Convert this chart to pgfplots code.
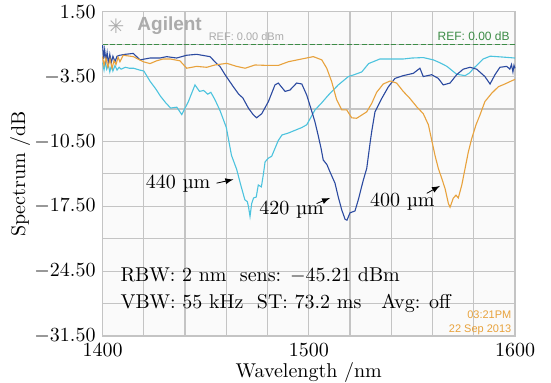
\documentclass[border=0pt]{standalone}
\usepackage{fontspec}
\usepackage{pgfplots}
\pgfplotsset{compat=1.18}
\newfontfamily\lsans{Liberation Sans}
\newfontfamily\dejavu{DejaVu Sans}
\definecolor{cyanc}{HTML}{4CC3DE}
\definecolor{navyc}{HTML}{2B4AA0}
\definecolor{orangec}{HTML}{E8A23C}
\definecolor{refgreen}{HTML}{3C8C46}
\definecolor{gridc}{HTML}{C4C4C4}
\definecolor{logoc}{HTML}{ABABAB}
\begin{document}
\begin{tikzpicture}
\begin{axis}[
  scale only axis, width=206.2pt, height=162.2pt,
  xmin=1400, xmax=1600, ymin=-31.5, ymax=3.5,
  xtick={1400,1500,1600}, minor xtick={1420,1440,1460,1480,1520,1540,1560,1580},
  xticklabel style={/pgf/number format/1000 sep={}},
  ytick={3.5,-3.5,-10.5,-17.5,-24.5,-31.5},
  yticklabels={$1.50$,$-3.50$,$-10.50$,$-17.50$,$-24.50$,$-31.50$},
  minor ytick={0,-7,-14,-21,-28},
  grid=both,
  major grid style={gridc, line width=0.6pt},
  minor grid style={gridc, line width=0.6pt},
  axis line style={gridc, line width=0.6pt},
  major tick length=0pt, minor tick length=0pt,
  xlabel={Wavelength /nm}, ylabel={Spectrum /dB},
  xlabel style={at={(axis description cs:0.5,0)}, anchor=center, yshift=-18pt},
  ylabel style={at={(axis description cs:-0.2,0.5)}, anchor=center},
  clip=false,
  axis background/.style={fill=black!2},
]
\coordinate (SW) at (rel axis cs:0,0);
\coordinate (NE) at (rel axis cs:1,1);
% REF line
\addplot[refgreen, line width=0.6pt, dash pattern=on 2.5pt off 1.2pt] coordinates {(1400,0) (1600,0)};
% 440 um (light blue)
\addplot[cyanc, line width=0.55pt] coordinates {
(1400,-2.0) (1400.7,-2.8) (1401.3,-1.9) (1402,-2.7) (1402.8,-2.2) (1403.5,-3.0) (1404.3,-2.3) (1405,-2.9) (1406,-2.3) (1407,-2.8) (1408,-2.5) (1409,-2.7) (1411,-2.5) (1413,-2.6) (1415,-2.6) (1418,-2.8) (1420,-2.9)
(1423,-4.0) (1426,-4.9) (1428,-5.6) (1430.5,-6.3) (1433,-6.9) (1436,-6.8) (1438.4,-7.6) (1441.6,-6.2) (1444.8,-4.4) (1447,-5.1) (1449,-5.0) (1451,-5.4) (1452.5,-5.2) (1454.5,-6.0) (1457,-7.2) (1460,-9.0)
(1462.5,-12.0) (1465,-13.5) (1467,-15.2) (1469,-16.8) (1470.2,-17.0) (1470.8,-17.6) (1471.5,-18.6) (1472.3,-17.2) (1473.2,-16.6) (1474.5,-16.5) (1475.5,-15.2) (1477,-15.4) (1478,-14.0) (1478.8,-12.7) (1480.4,-12.3) (1482,-12.1) (1483.5,-11.3) (1485.2,-10.4) (1487,-9.8) (1490,-9.6) (1493.3,-9.3) (1496.6,-9.0) (1499,-8.7)
(1503,-7.1) (1506,-6.4) (1509.5,-5.5) (1514.3,-4.4) (1519.2,-3.5) (1522,-3.3) (1525.7,-3.0) (1529,-2.1) (1534.5,-1.6) (1540,-1.6) (1546,-1.6) (1550,-1.5) (1555.5,-1.45) (1560.4,-1.7) (1563.5,-2.0) (1567,-2.4) (1571.7,-3.25) (1575.8,-3.4) (1578,-3.1) (1580,-2.6) (1584.6,-1.6) (1588,-1.3) (1594.3,-1.4) (1600,-1.5)
};
% 420 um (dark blue)
\addplot[navyc, line width=0.55pt] coordinates {
(1400,-0.1) (1400.5,-1.6) (1401,-0.6) (1401.6,-1.8) (1402.2,-0.9) (1402.8,-2.1) (1403.5,-1.1) (1404.2,-2.0) (1405,-1.3) (1406,-1.9) (1407,-1.3) (1408.4,-1.2) (1411,-1.1) (1414.9,-1.0) (1418.1,-1.7) (1423,-1.5) (1427.8,-1.5) (1431.1,-1.35) (1435.9,-1.5) (1440.8,-1.2) (1445.6,-1.1) (1452.1,-1.35)
(1455.3,-2.1) (1456.9,-2.4) (1459.4,-3.3) (1463.4,-4.6) (1466,-5.4) (1468,-5.8) (1470.7,-6.9) (1473,-7.6) (1474.7,-7.95) (1477.2,-7.5) (1480.4,-6.2) (1483.6,-4.4) (1485.2,-4.2) (1488.5,-5.1) (1490.9,-4.95) (1494.1,-4.2) (1496.6,-4.3) (1499,-5.5)
(1501.1,-7.0) (1503,-8.4) (1504.5,-9.8) (1506,-11.3) (1507,-12.5) (1508.8,-13.0) (1510.3,-13.8) (1512.7,-15.0) (1514.3,-16.5) (1516,-17.9) (1517.6,-18.9) (1518.5,-19.0) (1520,-18.2) (1522.4,-18.0) (1524,-16.8) (1526.4,-14.7) (1528.1,-13.4) (1529.7,-10.7) (1530.6,-9.3) (1532.1,-7.3)
(1535.4,-5.85) (1538.6,-4.6) (1541.8,-3.7) (1545.8,-3.4) (1550.7,-3.15) (1553.9,-2.6) (1555.5,-3.5) (1559.6,-3.3) (1562.8,-3.7) (1565.2,-4.4) (1568.5,-4.2) (1571.7,-3.3) (1574.9,-2.7) (1578.2,-2.5) (1581.4,-2.7) (1585.4,-3.5) (1587.9,-4.3) (1590.3,-3.3) (1592.7,-2.5) (1596,-2.4) (1597.5,-2.7) (1598.3,-2.2) (1599,-3.0) (1599.5,-2.3) (1600,-2.6)
};
% 400 um (orange)
\addplot[orangec, line width=0.55pt] coordinates {
(1400,-1.35) (1400.7,-2.3) (1401.6,-1.5) (1402.6,-2.5) (1403.6,-1.6) (1404.6,-2.6) (1405.5,-1.8) (1406.5,-2.2) (1407.5,-1.4) (1408.4,-1.9) (1410,-1.2) (1414.9,-1.35) (1419.7,-1.9) (1423,-2.1) (1426.2,-1.8) (1429.4,-1.6) (1432.7,-1.6) (1437.5,-1.8) (1440.8,-2.6) (1445.6,-2.4) (1450.5,-2.5) (1454.5,-2.25) (1460.2,-2.07) (1465,-2.4) (1469.1,-2.6) (1473.9,-2.25) (1480.4,-2.3) (1485.2,-2.3) (1490.1,-1.9) (1496.6,-1.6) (1502.2,-1.35) (1506.3,-1.7)
(1508.7,-2.6) (1511.1,-4.05) (1513.5,-6.0) (1516,-7.1) (1518.4,-7.1) (1520.8,-7.95) (1523.2,-8.0) (1525.7,-7.65) (1528.1,-7.3) (1530.5,-6.4) (1532.9,-5.2) (1536.1,-4.3) (1539.4,-3.98) (1542.6,-4.2) (1545.8,-5.1) (1549,-5.85) (1552.3,-6.75) (1555.5,-7.5) (1558,-8.7)
(1559.6,-10.35) (1561.2,-12.0) (1562.8,-13.4) (1564.5,-14.5) (1566.1,-15.6) (1567.7,-17.2) (1568.5,-17.6) (1570.1,-16.6) (1571.4,-16.3) (1572.5,-16.6) (1574.2,-15.2) (1575.8,-13.4) (1577.4,-11.6) (1579,-10.2) (1581.1,-8.7) (1583,-7.65) (1585.4,-6.2) (1588.7,-5.3) (1591.9,-4.6) (1595.1,-4.3) (1597.5,-4.05) (1600,-3.8)
};
% screen decorations
\node[logoc, font=\dejavu\fontsize{10}{10}\selectfont] at (axis cs:1406.5,1.9) {✳};
\node[logoc, anchor=west, inner sep=0pt, font=\lsans\bfseries\fontsize{9.5}{10}\selectfont] at (axis cs:1416.7,1.95) {Agilent};
\node[logoc, anchor=west, inner sep=0pt, font=\lsans\fontsize{5.5}{6}\selectfont] at (axis cs:1451.3,0.85) {REF: 0.00 dBm};
\node[refgreen, anchor=east, inner sep=0pt, font=\lsans\fontsize{6}{7}\selectfont] at (axis cs:1597.6,0.85) {REF: 0.00 dB};
\node[orangec, anchor=east, inner sep=0pt, font=\lsans\fontsize{5.5}{6}\selectfont] at (axis cs:1598.4,-29.16) {03:21PM};
\node[orangec, anchor=east, inner sep=0pt, font=\lsans\fontsize{5.5}{6}\selectfont] at (axis cs:1598.4,-30.79) {22 Sep 2013};
\node[anchor=west, inner sep=0pt] at (axis cs:1408.5,-24.95) {RBW: 2 nm\ \ sens: $-$45.21 dBm};
\node[anchor=west, inner sep=0pt] at (axis cs:1408.5,-27.98) {VBW: 55 kHz\ \ ST: 73.2 ms\ \ \ Avg: off};
% curve labels
\node[inner sep=0pt] at (axis cs:1436.6,-15.1) {440 µm};
\draw[-latex, line width=0.4pt] (axis cs:1455.3,-15.0) -- (axis cs:1463.4,-14.6);
\node[inner sep=0pt] at (axis cs:1491.7,-17.9) {420 µm};
\draw[-latex, line width=0.4pt] (axis cs:1503.8,-17.2) -- (axis cs:1510.3,-16.6);
\node[inner sep=0pt] at (axis cs:1545.4,-17.0) {400 µm};
\draw[-latex, line width=0.4pt] (axis cs:1557.2,-16.1) -- (axis cs:1563.6,-15.3);
\end{axis}
\pgfresetboundingbox
\path[use as bounding box] ([shift={(-51.3pt,-23pt)}]SW) rectangle ([shift={(18pt,5.85pt)}]NE);
\end{tikzpicture}
\end{document}
